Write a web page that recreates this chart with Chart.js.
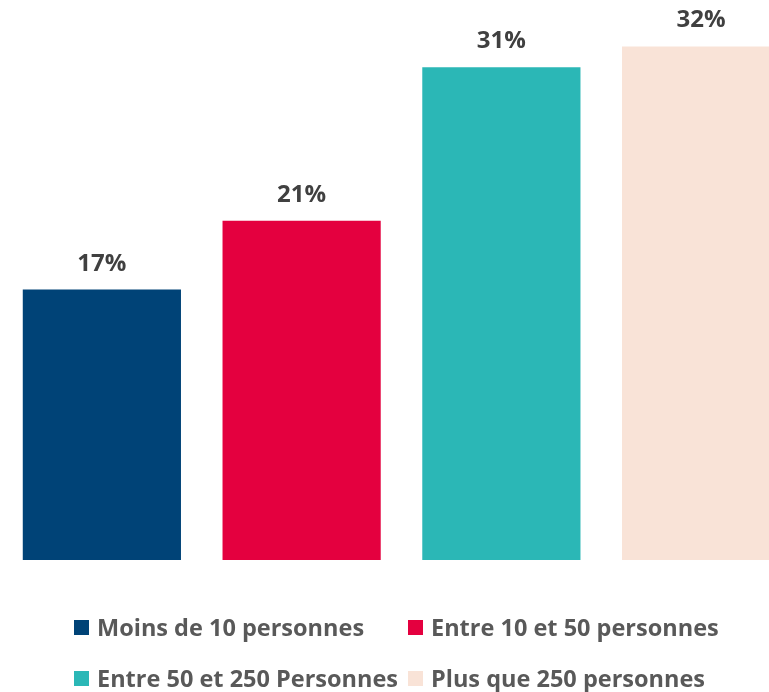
<!DOCTYPE html>
<html>
<head>
<meta charset="utf-8">
<script src="https://cdn.jsdelivr.net/npm/chart.js@4"></script>
<style>
    html, body { margin: 0; padding: 0; background: #fff; overflow: hidden; }
    #wrap { position: relative; width: 769px; height: 692px; overflow: hidden; }
    #chart-box { position: absolute; left: 0; top: 0; width: 801px; height: 692px; }
    #legend {
        position: absolute; left: 74px; top: 611px;
        display: grid; grid-template-columns: 334px auto; row-gap: 18px;
        font-family: "Open Sans", sans-serif; font-weight: bold; font-size: 23.5px;
        color: #595959; line-height: 33px;
    }
    .leg-item { display: flex; align-items: center; white-space: nowrap; }
    .leg-box { width: 15px; height: 15px; margin-right: 8px; flex: none; }
</style>
</head>
<body>
<div id="wrap">
    <div id="chart-box"><canvas id="chart"></canvas></div>
    <div id="legend"></div>
</div>
<script>
const categories = ["Moins de 10 personnes", "Entre 10 et 50 personnes", "Entre 50 et 250 Personnes", "Plus que 250 personnes"];
const values = [16.9, 21.2, 30.8, 32.1];
const colors = ["#004377", "#e4003f", "#2bb7b6", "#f9e3d7"];

// value labels drawn above each bar
const barLabels = {
    id: "barLabels",
    afterDatasetsDraw(chart) {
        const ctx = chart.ctx;
        ctx.save();
        ctx.font = "bold 24px 'Open Sans', sans-serif";
        ctx.fillStyle = "#404040";
        ctx.textAlign = "center";
        ctx.textBaseline = "alphabetic";
        chart.getDatasetMeta(0).data.forEach((bar, i) => {
            ctx.fillText(Math.round(values[i]) + "%", bar.x, bar.y - 19);
        });
        ctx.restore();
    }
};

new Chart(document.getElementById("chart"), {
    type: "bar",
    data: {
        labels: categories,
        datasets: [{
            data: values,
            backgroundColor: colors,
            borderWidth: 0,
            barPercentage: 0.792,
            categoryPercentage: 1
        }]
    },
    options: {
        responsive: true,
        maintainAspectRatio: false,
        animation: false,
        layout: { padding: { left: 2, right: 0, top: 0, bottom: 132 } },
        plugins: { legend: { display: false }, tooltip: { enabled: false } },
        scales: {
            x: { display: false },
            y: { display: false, min: 0, max: 35 }
        }
    },
    plugins: [barLabels]
});

const legend = document.getElementById("legend");
categories.forEach((name, i) => {
    const item = document.createElement("div");
    item.className = "leg-item";
    item.innerHTML = `<span class="leg-box" style="background:${colors[i]}"></span><span>${name}</span>`;
    legend.appendChild(item);
});
</script>
</body>
</html>
